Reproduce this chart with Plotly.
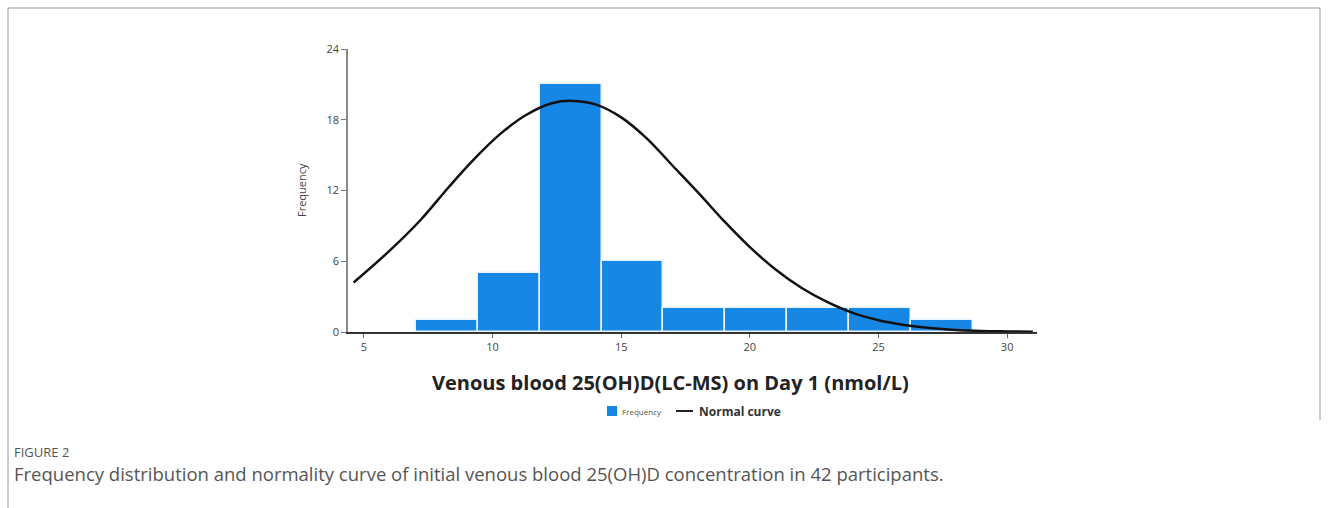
import plotly.graph_objects as go

# Histogram of day-1 venous 25(OH)D (LC-MS), n = 42
bin_edges = [7.02, 9.43, 11.83, 14.24, 16.64, 19.05, 21.45, 23.86, 26.26, 28.67]
counts = [1, 5, 21, 6, 2, 2, 2, 2, 1]

# Fitted normal curve, sampled along the x axis
curve_x = [4.6, 6.0, 7.2, 8.3, 9.3, 10.3, 11.3, 12.3, 13.1, 14.0, 15.0, 16.0, 17.0,
           18.0, 19.0, 20.0, 21.0, 22.0, 23.0, 24.0, 25.0, 26.0, 27.0, 28.0, 29.0,
           30.0, 31.0]
curve_y = [4.2, 6.9, 9.5, 12.3, 14.7, 16.8, 18.4, 19.4, 19.6, 19.3, 18.2, 16.4, 14.1,
           11.8, 9.4, 7.2, 5.3, 3.75, 2.55, 1.62, 1.0, 0.6, 0.34, 0.18, 0.09, 0.05, 0.02]

x_ticks = [5, 10, 15, 20, 25, 30]
y_ticks = [0, 6, 12, 18, 24]

x_title = "Venous blood 25(OH)D(LC-MS) on Day 1 (nmol/L)"
fig_label = "FIGURE 2"
caption = ("Frequency distribution and normality curve of initial venous blood "
           "25(OH)D concentration in 42 participants.")

W, H = 1328, 508
L, R, T, B = 348, 1037, 49, 332  # plot area in pixels


def px(x):
    return (x - L) / (R - L)


def py(y):
    return (B - y) / (B - T)


centers = [(a + b) / 2 for a, b in zip(bin_edges[:-1], bin_edges[1:])]
widths = [b - a for a, b in zip(bin_edges[:-1], bin_edges[1:])]

fig = go.Figure()
fig.add_trace(go.Bar(
    x=centers, y=counts, width=widths,
    marker=dict(color="#1787E6", line=dict(color="#EAF3FC", width=1.5)),
    name="Frequency", showlegend=False,
))
fig.add_trace(go.Scatter(
    x=curve_x, y=curve_y, mode="lines", line_shape="spline",
    line=dict(color="#111111", width=2.5), name="Normal curve", showlegend=False,
    cliponaxis=False,
))

tick_font = dict(family="Open Sans", size=11, color="#444444")
fig.update_layout(
    width=W, height=H,
    margin=dict(l=L, r=W - R, t=T, b=H - B),
    paper_bgcolor="white", plot_bgcolor="white",
    bargap=0,
    xaxis=dict(range=[4.38, 31.16], tickvals=x_ticks, ticks="outside", ticklen=4,
               tickcolor="#666666", showgrid=False, zeroline=False, showline=True,
               linecolor="#333333", linewidth=1.5, tickfont=tick_font),
    yaxis=dict(range=[0, 24], tickvals=y_ticks, ticks="outside", ticklen=5,
               tickcolor="#777777", showgrid=False, zeroline=False, showline=True,
               linecolor="#8a8a8a", linewidth=1.5, tickfont=tick_font),
    font=dict(family="Open Sans"),
)

ann = []
ann.append(dict(text="<b>" + x_title + "</b>", x=px(670), y=py(382),
                font=dict(family="Open Sans", size=20, color="#222222")))
ann.append(dict(text="Frequency", x=px(301), y=py(190), textangle=-90,
                font=dict(family="Open Sans", size=11, color="#444444")))
ann.append(dict(text="Frequency", x=px(620), y=py(411), xanchor="left",
                font=dict(family="Open Sans", size=8, color="#555555")))
ann.append(dict(text="<b>Normal curve</b>", x=px(697), y=py(411), xanchor="left",
                font=dict(family="Open Sans", size=12, color="#333333")))
ann.append(dict(text=fig_label, x=px(12), y=py(452), xanchor="left",
                font=dict(family="Open Sans", size=13, color="#555555")))
ann.append(dict(text=caption, x=px(12), y=py(473), xanchor="left",
                font=dict(family="Open Sans", size=18.5, color="#555555")))
for a in ann:
    a.update(xref="paper", yref="paper", showarrow=False, yanchor="middle")
    a.setdefault("xanchor", "center")
fig.update_layout(annotations=ann)

shapes = [
    # legend swatch and line
    dict(type="rect", x0=px(607), x1=px(617), y0=py(406), y1=py(416),
         fillcolor="#1787E6", line=dict(width=0)),
    dict(type="line", x0=px(676), x1=px(693), y0=py(411), y1=py(411),
         line=dict(color="#222222", width=2)),
    # figure frame
    dict(type="line", x0=px(8), x1=px(1320), y0=py(8), y1=py(8),
         line=dict(color="#9a9a9a", width=1)),
    dict(type="line", x0=px(8), x1=px(8), y0=py(8), y1=py(508),
         line=dict(color="#9a9a9a", width=1)),
    dict(type="line", x0=px(1320), x1=px(1320), y0=py(8), y1=py(420),
         line=dict(color="#9a9a9a", width=1)),
]
for s in shapes:
    s.update(xref="paper", yref="paper", layer="above")
fig.update_layout(shapes=shapes)

fig.write_html("out.html")
